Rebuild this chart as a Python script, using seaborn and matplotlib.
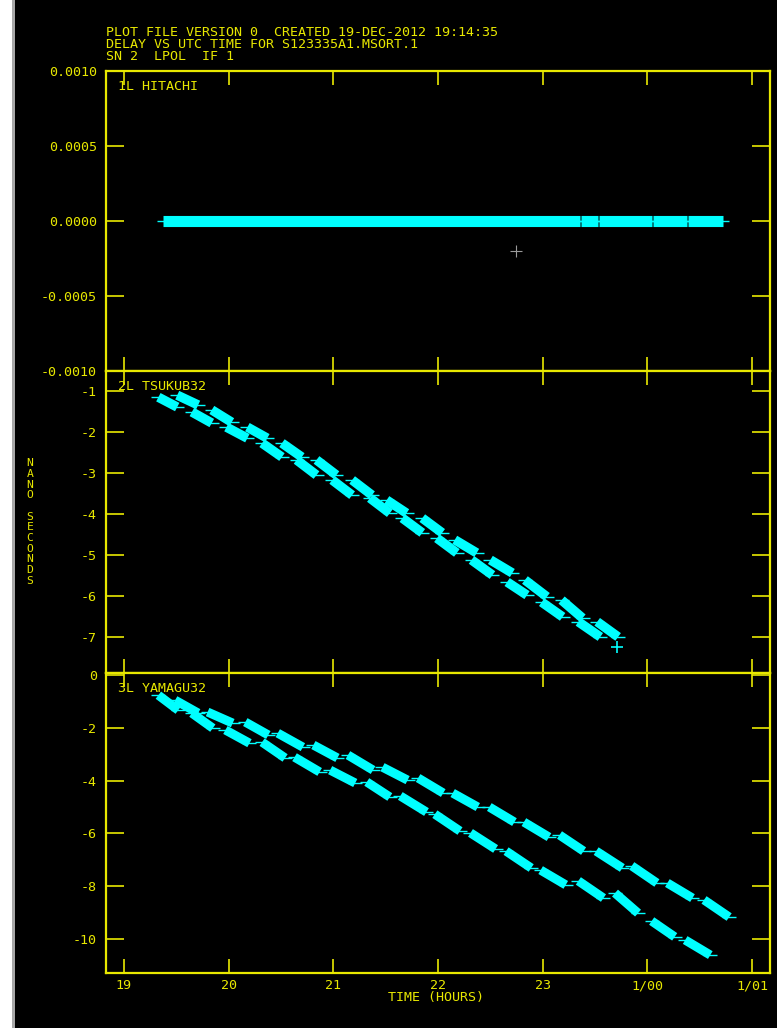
import numpy as np
import pandas as pd
import matplotlib
matplotlib.use("Agg")
import matplotlib.pyplot as plt
from matplotlib.patches import Rectangle
import seaborn as sns

YEL = "#e8e800"
CYAN = "#00ffff"

title_lines = [
    "PLOT FILE VERSION 0  CREATED 19-DEC-2012 19:14:35",
    "DELAY VS UTC TIME FOR S123335A1.MSORT.1",
    "SN 2  LPOL  IF 1",
]
x_ticks = [19, 20, 21, 22, 23, 24, 25]
x_ticklabels = ["19", "20", "21", "22", "23", "1/00", "1/01"]
x_label = "TIME (HOURS)"
y_label = "NANO SECONDS"

# ---- panel 1: HITACHI (reference antenna, delay 0) ----
hit_t0 = [19.37, 23.37, 23.54, 24.05, 24.39]
hit_t1 = [23.36, 23.53, 24.04, 24.38, 24.72]
hit_v0 = [0.0, 0.0, 0.0, 0.0, 0.0]
hit_v1 = [0.0, 0.0, 0.0, 0.0, 0.0]
hit_out_t = [22.74]
hit_out_v = [-0.0002]
hit_yticks = [0.001, 0.0005, 0.0, -0.0005, -0.001]
hit_yticklabels = ["0.0010", "0.0005", "0.0000", "-0.0005", "-0.0010"]

# ---- panel 2: TSUKUB32 ----
tsu_t0 = [19.33, 19.51, 19.65, 19.84, 19.98, 20.18, 20.32, 20.51, 20.65, 20.84,
          20.99, 21.18, 21.35, 21.51, 21.66, 21.85, 21.99, 22.16, 22.32, 22.50,
          22.66, 22.83, 22.99, 23.18, 23.34, 23.52]
tsu_t1 = [19.51, 19.71, 19.84, 20.03, 20.18, 20.37, 20.51, 20.70, 20.84, 21.03,
          21.18, 21.37, 21.54, 21.70, 21.85, 22.04, 22.18, 22.37, 22.52, 22.71,
          22.85, 23.04, 23.19, 23.38, 23.55, 23.72]
tsu_v0 = [-1.15, -1.10, -1.51, -1.46, -1.88, -1.88, -2.27, -2.27, -2.68, -2.68,
          -3.17, -3.17, -3.61, -3.66, -4.10, -4.10, -4.59, -4.63, -5.12, -5.12,
          -5.66, -5.61, -6.15, -6.10, -6.63, -6.63]
tsu_v1 = [-1.39, -1.34, -1.78, -1.76, -2.15, -2.15, -2.61, -2.61, -3.05, -3.05,
          -3.54, -3.54, -3.98, -3.98, -4.46, -4.46, -4.95, -4.95, -5.49, -5.44,
          -5.98, -6.02, -6.51, -6.54, -7.00, -7.00]
tsu_out_t = [23.71]
tsu_out_v = [-7.24]
tsu_yticks = [-1, -2, -3, -4, -5, -6, -7]

# ---- panel 3: YAMAGU32 ----
yam_t0 = [19.33, 19.49, 19.65, 19.80, 19.97, 20.16, 20.32, 20.47, 20.63, 20.81,
          20.97, 21.14, 21.32, 21.47, 21.64, 21.81, 21.97, 22.14, 22.31, 22.49,
          22.65, 22.82, 22.98, 23.16, 23.34, 23.51, 23.69, 23.85, 24.04, 24.19,
          24.36, 24.54]
yam_t1 = [19.52, 19.71, 19.85, 20.04, 20.20, 20.38, 20.54, 20.71, 20.87, 21.04,
          21.21, 21.38, 21.54, 21.71, 21.89, 22.05, 22.21, 22.38, 22.55, 22.73,
          22.89, 23.06, 23.22, 23.39, 23.58, 23.76, 23.91, 24.09, 24.26, 24.43,
          24.60, 24.78]
yam_v0 = [-0.76, -0.95, -1.44, -1.40, -2.08, -1.78, -2.54, -2.20, -3.11, -2.65,
          -3.60, -3.03, -4.05, -3.49, -4.58, -3.90, -5.27, -4.47, -5.98, -5.00,
          -6.67, -5.57, -7.39, -6.06, -7.80, -6.67, -8.26, -7.23, -9.32, -7.88,
          -10.04, -8.52]
yam_v1 = [-1.33, -1.44, -2.01, -1.82, -2.58, -2.27, -3.14, -2.73, -3.67, -3.14,
          -4.09, -3.60, -4.62, -3.98, -5.19, -4.47, -5.91, -5.00, -6.59, -5.57,
          -7.31, -6.14, -7.95, -6.67, -8.45, -7.31, -9.02, -7.88, -9.92, -8.45,
          -10.61, -9.17]
yam_yticks = [0, -2, -4, -6, -8, -10]


def scans(t0, t1, v0, v1):
    rows = []
    for i, (a, b, c, d) in enumerate(zip(t0, t1, v0, v1)):
        rows.append((i, a, c))
        rows.append((i, b, d))
    return pd.DataFrame(rows, columns=["scan", "t", "v"])


sns.set_theme(style="dark", rc={
    "figure.facecolor": "black",
    "axes.facecolor": "black",
    "axes.edgecolor": YEL,
    "axes.grid": False,
    "text.color": YEL,
    "xtick.color": YEL,
    "ytick.color": YEL,
})
plt.rcParams["font.family"] = ["DejaVu Sans Mono", "DejaVu Sans"]
FS = 9.6

W, H = 777, 1028
fig = plt.figure(figsize=(W / 100, H / 100), dpi=100)
fig.patch.set_facecolor("black")

L, R = 106, 770
bounds = [(71, 371), (371, 673), (673, 973)]
axes = []
for top, bot in bounds:
    ax = fig.add_axes([L / W, 1 - bot / H, (R - L) / W, (bot - top) / H])
    axes.append(ax)

panels = [
    (scans(hit_t0, hit_t1, hit_v0, hit_v1), (-0.001, 0.001), hit_yticks, hit_yticklabels, "1L HITACHI", 8.0, 30),
    (scans(tsu_t0, tsu_t1, tsu_v0, tsu_v1), (-7.88, -0.51), tsu_yticks, [str(v) for v in tsu_yticks], "2L TSUKUB32", 6.8, 45),
    (scans(yam_t0, yam_t1, yam_v0, yam_v1), (-11.29, 0.08), yam_yticks, [str(v) for v in yam_yticks], "3L YAMAGU32", 6.5, 45),
]

for i, (ax, (df, ylim, yt, ytl, name, lw, ms)) in enumerate(zip(axes, panels)):
    sns.lineplot(data=df, x="t", y="v", units="scan", estimator=None, sort=False,
                 color=CYAN, lw=lw, solid_capstyle="butt", ax=ax, legend=False)
    sns.scatterplot(data=df, x="t", y="v", marker="_", color=CYAN, s=ms * 2.2,
                    linewidth=1.0, ax=ax, legend=False)
    ax.set_xlim(18.83, 25.17)
    ax.set_ylim(*ylim)
    ax.set_xticks(x_ticks)
    ax.set_yticks(yt)
    ax.set_yticklabels(ytl, fontsize=FS, color=YEL)
    ax.tick_params(axis="x", direction="in", length=10, width=1.2, color=YEL,
                   top=True, bottom=True, pad=4.5)
    ax.tick_params(axis="y", direction="in", length=13, width=1.2, color=YEL,
                   left=True, right=True, pad=6.5)
    if i < 2:
        ax.set_xticklabels([])
    else:
        ax.set_xticklabels(x_ticklabels, fontsize=FS, color=YEL)
    ax.set_xlabel("")
    ax.set_ylabel("")
    for sp in ax.spines.values():
        sp.set_color(YEL)
        sp.set_linewidth(1.6)
    ax.text(0.018, 0.95, name, transform=ax.transAxes, fontsize=FS,
            color=YEL, ha="left", va="center")

sns.scatterplot(x=hit_out_t, y=hit_out_v, marker="+", color="#9a9a9a", s=80,
                linewidth=0.8, ax=axes[0], legend=False)
sns.scatterplot(x=tsu_out_t, y=tsu_out_v, marker="+", color=CYAN, s=80,
                linewidth=1.2, ax=axes[1], legend=False)

for k, line in enumerate(title_lines):
    fig.text(L / W, 1 - (33 + 12 * k) / H, line, fontsize=FS, color=YEL,
             ha="left", va="center")

fig.text((L + R) / 2 / W - 0.003, 1 - 998 / H, x_label, fontsize=FS, color=YEL,
         ha="center", va="center")

# stacked vertical axis label as one multi-line text
fig.text(30 / W, 1 - 522 / H, "\n".join(y_label), fontsize=FS - 1.4,
         color=YEL, ha="center", va="center", linespacing=1.08,
         multialignment="center")

fig.patches.append(Rectangle((0, 0), 12 / W, 1, transform=fig.transFigure,
                             facecolor="white", edgecolor="none", zorder=-1))
fig.patches.append(Rectangle((12 / W, 0), 3 / W, 1, transform=fig.transFigure,
                             facecolor="#a8a8a8", edgecolor="none", zorder=-1))

fig.savefig("out.png", dpi=100, facecolor="black")
